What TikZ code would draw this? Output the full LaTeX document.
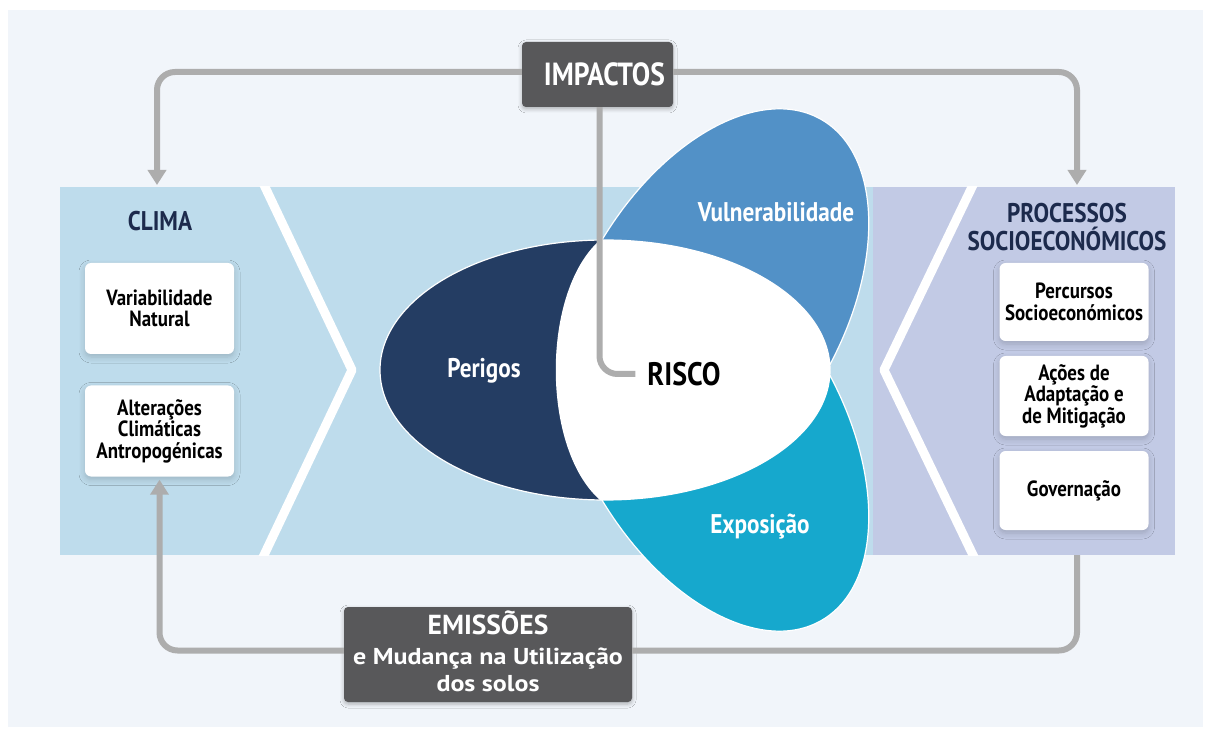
\documentclass[tikz,border=0pt]{standalone}
\usepackage{fontspec}
\setmainfont{PT Sans}[FakeStretch=0.86]
\newfontfamily\widefont{PT Sans}[FakeStretch=1.13]
\newfontfamily\emifont{PT Sans}
\usetikzlibrary{arrows.meta,shadows.blur}
\definecolor{pagebg}{HTML}{F1F5FA}
\definecolor{bandblue}{HTML}{BEDCEC}
\definecolor{bandlav}{HTML}{C2CAE5}
\definecolor{navy}{HTML}{243D63}
\definecolor{vulnblue}{HTML}{5291C7}
\definecolor{expocyan}{HTML}{16A8CD}
\definecolor{darkgraybox}{HTML}{58585A}
\definecolor{conngray}{HTML}{ADADAD}
\definecolor{titlenavy}{HTML}{1C2A4C}
\newcommand\myfs[2]{\fontsize{#1}{#2}\selectfont}
\begin{document}
\begin{tikzpicture}[x=1pt,y=-1pt,
  darkbox/.style={fill=darkgraybox, rounded corners=4pt, text=white, align=center, inner sep=0pt,
    blur shadow={shadow blur steps=5, shadow xshift=0pt, shadow yshift=-2pt, shadow blur radius=4pt, shadow opacity=28}},
  whitebox/.style={fill=white, rounded corners=6pt, minimum width=149pt, inner sep=2pt, text=black,
    font=\bfseries\myfs{22}{21.5}, align=center,
    blur shadow={shadow blur steps=6, shadow xshift=0pt, shadow yshift=-3pt, shadow blur radius=6pt, shadow opacity=18}},
  conn/.style={draw=conngray, line width=6pt, rounded corners=18pt, -{Triangle[width=18pt,length=15pt]}},
  connplain/.style={draw=conngray, line width=6pt, rounded corners=18pt},
  paneltitle/.style={text=titlenavy, font=\bfseries\myfs{27}{28}, align=center, inner sep=0pt},
  petallabel/.style={text=white, font=\bfseries\myfs{27}{28}, inner sep=0pt},
  vulnrot/.style={rotate around={60:(711,311)}},
  exporot/.style={rotate around={-60:(711,429)}},
  chevron/.style={draw=white, line width=9pt, line join=round}
]
\useasboundingbox (0,0) rectangle (1211,735);
% page and panel
\fill[white] (0,0) rectangle (1211,735);
\fill[pagebg] (8,10) rectangle (1203,727);
% bands
\fill[bandblue] (60,187) rectangle (873,555);
\fill[bandlav] (873,187) rectangle (1175,555);
\begin{scope}
  \clip (60,187) rectangle (1175,555);
  \draw[chevron] (259.3,175) -- (352,370) -- (259.3,565);
  \draw[chevron] (977.8,175) -- (884,370) -- (977.8,565);
\end{scope}
% petals: Vulnerabilidade (upper half only), Exposicao (lower half only)
\begin{scope}
  \clip (300,0) rectangle (1000,370);
  \filldraw[fill=vulnblue, draw=white, line width=1.2pt, vulnrot] (711,311) ellipse [x radius=221pt, y radius=130pt];
\end{scope}
\begin{scope}
  \clip (300,370) rectangle (1000,735);
  \filldraw[fill=expocyan, draw=white, line width=1.2pt, exporot] (711,429) ellipse [x radius=221pt, y radius=130pt];
\end{scope}
\filldraw[fill=navy, draw=white, line width=1.2pt] (605,370) ellipse [x radius=225pt, y radius=130pt];
% central white area (RISCO)
\begin{scope}
  \clip (605,370) ellipse [x radius=225pt, y radius=130pt];
  \fill[white] (600,200) -- (600,240) .. controls (541,292) and (541,448) .. (600,500)
    -- (600,560) -- (900,560) -- (900,200) -- cycle;
\end{scope}
% petal labels
\node[petallabel] (perigos) at (484,371) {Perigos};
\node[petallabel] (vuln) at (776,212) {Vulnerabilidade};
\node[petallabel] (expo) at (760,527) {Exposição};
\node[text=black, font=\bfseries\myfs{32.5}{33}, inner sep=2pt] (risco) at (684,374) {RISCO};
% panel titles
\node[paneltitle] (clima) at (160,221) {CLIMA};
\node[paneltitle] (proc) at (1067,227) {PROCESSOS\\SOCIOECONÓMICOS};
% boxes left
\node[whitebox, minimum height=91pt] (var) at (159.5,308.5) {Variabilidade\\Natural};
\node[whitebox, minimum height=91pt] (alt) at (159.5,431) {Alterações\\Climáticas\\Antropogénicas};
% boxes right
\node[whitebox, minimum height=78pt] (perc) at (1074,302) {Percursos\\Socioeconómicos};
\node[whitebox, minimum height=80pt] (acoes) at (1074,396) {Ações de\\Adaptação e\\de Mitigação};
\node[whitebox, minimum height=79pt] (gov) at (1074,490.5) {Governação};
% dark boxes
\node[darkbox, minimum width=151pt, minimum height=65pt, font=\bfseries\myfs{32}{33}] (imp) at (597.5,74.5) {\hspace*{14pt}IMPACTOS};
\node[darkbox, minimum width=288pt, minimum height=95pt, text depth=6pt, font=\widefont\bfseries\myfs{23}{27}] (emi) at (488,654.5)
  {{\emifont\bfseries\myfs{27.5}{27}EMISSÕES}\\[3pt]e Mudança na Utilização\\dos solos};
% connector anchors
\coordinate (climaTop) at (157,187);
\coordinate (socTop) at (1077,187);
\coordinate (socBot) at (1077,555);
% connectors
\draw[conn, shorten >=2pt] ([yshift=2.5pt]imp.west) -| (climaTop);
\draw[conn, shorten >=2pt] ([yshift=2.5pt]imp.east) -| (socTop);
\draw[connplain, shorten >=10pt] ([xshift=2pt]imp.south) |- (risco.west);
\draw[connplain] (socBot) |- ([yshift=4pt]emi.east);
\draw[conn, shorten >=3pt] ([yshift=4pt]emi.west) -| (alt.south);
\end{tikzpicture}
\end{document}
